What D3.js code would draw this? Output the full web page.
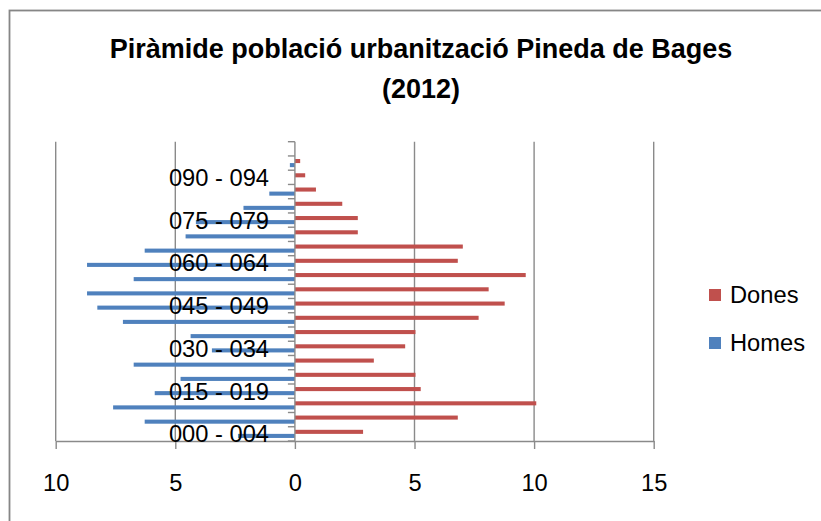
<!DOCTYPE html>
<html>
<head>
<meta charset="utf-8">
<script src="https://cdn.jsdelivr.net/npm/d3@7"></script>
<style>
  body { margin: 0; background: #fff; }
  svg { display: block; font-family: "Liberation Sans", Arial, sans-serif; }
</style>
</head>
<body>
<svg id="chart" width="821" height="521"></svg>
<script>
// age groups, bottom to top
const categories = [
    "000 - 004", "005 - 009", "010 - 014", "015 - 019", "020 - 024", "025 - 029",
    "030 - 034", "035 - 039", "040 - 044", "045 - 049", "050 - 054", "055 - 059",
    "060 - 064", "065 - 069", "070 - 074", "075 - 079", "080 - 084", "085 - 089",
    "090 - 094", "095 - 099", "100 - 104"
];
const dones = [2.85, 6.81, 10.09, 5.26, 5.04, 3.30, 4.61, 5.04, 7.68, 8.77, 8.10,
    9.65, 6.81, 7.02, 2.63, 2.63, 1.98, 0.88, 0.43, 0.22, 0];
const homes = [2.38, 6.28, 7.60, 5.86, 4.78, 6.74, 3.47, 4.36, 7.19, 8.26, 8.69,
    6.74, 8.69, 6.28, 4.57, 4.14, 2.15, 1.07, 0, 0.21, 0];
const xTicks = [-10, -5, 0, 5, 10, 15];
const seriesNames = ["Dones", "Homes"];
const colors = { Dones: "#C0504D", Homes: "#4F81BD" };

const svg = d3.select("#chart");
const grid = "#8a8a8a";

// outer chart frame (cropped on right and bottom)
svg.append("rect")
    .attr("x", 9.5).attr("y", 10.5)
    .attr("width", 830).attr("height", 530)
    .attr("fill", "none").attr("stroke", "#868686").attr("stroke-width", 1.8);

svg.append("text")
    .attr("x", 421).attr("y", 58)
    .attr("text-anchor", "middle")
    .style("font-size", "27px").style("font-weight", "bold")
    .text("Piràmide població urbanització Pineda de Bages");
svg.append("text")
    .attr("x", 421).attr("y", 98)
    .attr("text-anchor", "middle")
    .style("font-size", "27px").style("font-weight", "bold")
    .text("(2012)");

const x = d3.scaleLinear().domain([-10, 15]).range([55.7, 653.7]);
const y = d3.scaleBand().domain(categories).range([441, 141.7]);
const bw = y.bandwidth();
const barH = bw / 3.5;

// vertical gridlines
svg.append("g").selectAll("line")
    .data(xTicks.filter(d => d !== 0))
    .join("line")
    .attr("x1", d => x(d)).attr("x2", d => x(d))
    .attr("y1", 141.7).attr("y2", 441)
    .attr("stroke", grid).attr("stroke-width", 1.4);

// bars
const bars = svg.append("g");
bars.selectAll(".d")
    .data(categories)
    .join("rect")
    .attr("x", x(0))
    .attr("y", d => y(d) + bw / 2 - barH)
    .attr("width", (d, i) => x(dones[i]) - x(0))
    .attr("height", barH)
    .attr("fill", colors.Dones);
bars.selectAll(".h")
    .data(categories)
    .join("rect")
    .attr("x", (d, i) => x(-homes[i]))
    .attr("y", d => y(d) + bw / 2)
    .attr("width", (d, i) => x(0) - x(-homes[i]))
    .attr("height", barH)
    .attr("fill", colors.Homes);

// x axis
const xAxis = svg.append("g")
    .attr("transform", "translate(0,441)")
    .call(d3.axisBottom(x).tickValues(xTicks).tickSize(8).tickSizeOuter(0)
        .tickFormat(d => Math.abs(d)));
xAxis.select(".domain").attr("stroke", grid).attr("stroke-width", 1.4);
xAxis.selectAll(".tick line").attr("stroke", grid).attr("stroke-width", 1.4);
xAxis.selectAll(".tick text")
    .attr("y", 50).attr("dy", 0)
    .style("font-size", "23.7px").style("font-family", "Liberation Sans, Arial, sans-serif")
    .attr("fill", "#000");

// y axis at zero
const yAxis = svg.append("g");
yAxis.append("line")
    .attr("x1", x(0)).attr("x2", x(0))
    .attr("y1", 141.7).attr("y2", 441)
    .attr("stroke", grid).attr("stroke-width", 1.4);
yAxis.selectAll(".tk")
    .data(d3.range(categories.length + 1))
    .join("line")
    .attr("x1", x(0) - 7).attr("x2", x(0))
    .attr("y1", i => i < categories.length ? y(categories[i]) + bw : y(categories[i - 1]))
    .attr("y2", i => i < categories.length ? y(categories[i]) + bw : y(categories[i - 1]))
    .attr("stroke", grid).attr("stroke-width", 1.4);
yAxis.selectAll("text")
    .data(categories.filter((d, i) => i % 3 === 0))
    .join("text")
    .attr("x", 269)
    .attr("y", d => y(d) + bw / 2 + 8.5)
    .attr("text-anchor", "end")
    .style("font-size", "23.7px")
    .text(d => d);

// legend
const leg = svg.append("g");
seriesNames.forEach((s, i) => {
    const ly = 289 + i * 48;
    leg.append("rect")
        .attr("x", 709).attr("y", ly)
        .attr("width", 12).attr("height", 12)
        .attr("fill", colors[s]);
    leg.append("text")
        .attr("x", 730).attr("y", ly + 14)
        .style("font-size", "23.7px")
        .text(s);
});
</script>
</body>
</html>
